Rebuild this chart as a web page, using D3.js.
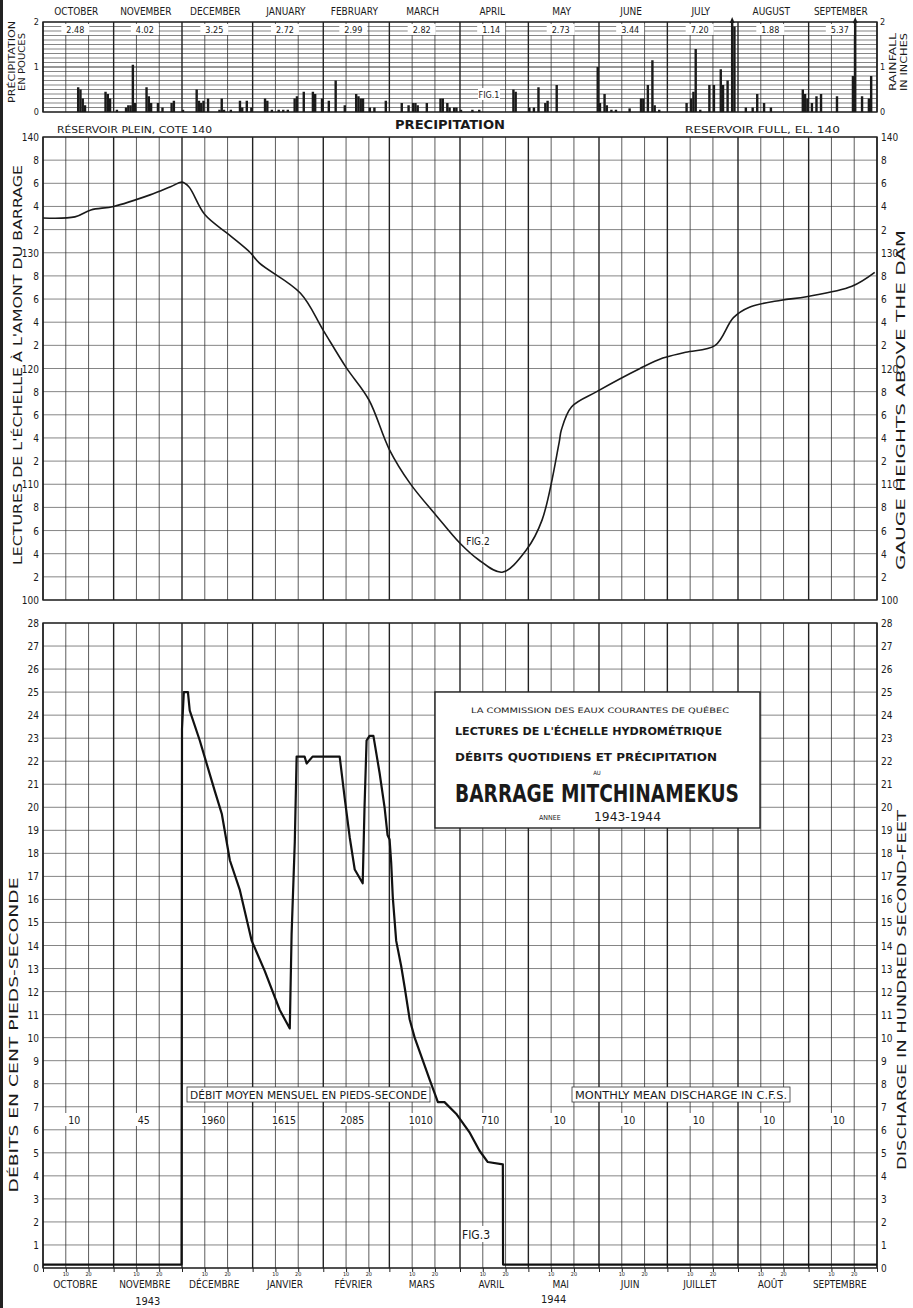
<!DOCTYPE html>
<html>
<head>
<meta charset="utf-8">
<script src="https://cdn.jsdelivr.net/npm/d3@7"></script>
<style>
  body { margin: 0; background: #fff; }
  svg { display: block; }
  text { font-family: "Liberation Sans Narrow", "DejaVu Sans Condensed", "Liberation Sans", sans-serif; fill: #1a1a1a; }
</style>
</head>
<body>
<div id="chart"></div>
<script>
// month labels and monthly figures
var monthsEn = ["OCTOBER", "NOVEMBER", "DECEMBER", "JANUARY", "FEBRUARY", "MARCH", "APRIL", "MAY", "JUNE", "JULY", "AUGUST", "SEPTEMBER"];
var monthsFr = ["OCTOBRE", "NOVEMBRE", "DÉCEMBRE", "JANVIER", "FÉVRIER", "MARS", "AVRIL", "MAI", "JUIN", "JUILLET", "AOÛT", "SEPTEMBRE"];
var rainTotals = ["2.48", "4.02", "3.25", "2.72", "2.99", "2.82", "1.14", "2.73", "3.44", "7.20", "1.88", "5.37"];
var meanDischarge = ["10", "45", "1960", "1615", "2085", "1010", "710", "10", "10", "10", "10", "10"];

// daily rainfall, day counted from Oct 1 1943, inches
var rainDay = [15, 16, 17, 18, 27, 28, 29, 32, 36, 37, 38, 39, 40, 45, 46, 47, 50, 52, 56, 57, 61,
  67, 68, 69, 70, 72, 77, 78, 79, 82, 86, 87, 89, 91, 97, 98, 100, 103, 105, 107, 110, 111, 114, 118, 119,
  122, 125, 128, 132, 137, 138, 139, 140, 143, 145, 150, 157, 160, 162, 163, 164, 168, 174, 175, 177, 178,
  180, 181, 183, 188, 191, 206, 207, 213, 215, 217, 220, 221, 225, 243, 244, 246, 247, 249, 251, 257,
  262, 263, 265, 267, 268, 270, 282, 284, 285, 286, 288, 292, 294, 297, 298, 300, 302, 303, 308, 311,
  313, 316, 319, 333, 334, 335, 337, 339, 341, 348, 355, 356, 359, 362, 363];
var rainInches = [0.55, 0.5, 0.3, 0.15, 0.45, 0.4, 0.3, 0.05, 0.1, 0.15, 0.15, 1.05, 0.2, 0.55, 0.35, 0.2, 0.2, 0.1, 0.2, 0.25, 0.05,
  0.5, 0.25, 0.2, 0.25, 0.3, 0.05, 0.3, 0.05, 0.05, 0.25, 0.1, 0.25, 0.1, 0.3, 0.25, 0.05, 0.05, 0.05, 0.05, 0.3, 0.35, 0.45, 0.45, 0.4,
  0.3, 0.25, 0.7, 0.15, 0.4, 0.35, 0.3, 0.3, 0.1, 0.1, 0.25, 0.2, 0.15, 0.2, 0.2, 0.15, 0.2, 0.3, 0.3, 0.2, 0.1,
  0.1, 0.1, 0.05, 0.05, 0.05, 0.5, 0.45, 0.1, 0.1, 0.55, 0.2, 0.25, 0.6, 1.0, 0.2, 0.4, 0.15, 0.05, 0.05, 0.08,
  0.3, 0.3, 0.6, 1.15, 0.15, 0.05, 0.2, 0.3, 0.45, 1.4, 0.05, 0.6, 0.6, 0.95, 0.6, 0.7, 2.0, 1.9, 0.1, 0.1,
  0.4, 0.2, 0.1, 0.5, 0.4, 0.3, 0.2, 0.35, 0.4, 0.35, 0.8, 2.0, 0.35, 0.3, 0.8];
// days whose rainfall runs off the top of the scale (arrow drawn)
var rainOffScale = [302, 356];

// gauge heights above the dam
var gaugeDay = [0, 14, 21, 31, 47, 56, 61, 64, 71, 82, 91, 95, 113, 123, 133, 143, 152, 161, 173, 183, 191, 201.5,
  212, 219, 226.5, 227.5, 232, 243, 262, 272, 282, 295, 303, 310, 324, 335, 355, 365];
var gaugeHeight = [133.0, 133.1, 133.7, 134.0, 135.0, 135.7, 136.1, 135.7, 133.3, 131.5, 130.0, 129.1, 126.5, 123.3, 120.1, 117.3, 113.0, 110.1,
  107.2, 104.9, 103.5, 102.4, 104.3, 106.9, 113.6, 114.7, 116.7, 118.0, 120.0, 120.9, 121.4, 122.0, 124.4, 125.3, 125.9, 126.2, 127.1, 128.3];

// daily discharge, hundreds of second-feet
var flowDay = [0, 60.8, 61, 61.8, 63.6, 64.4, 68.8, 75.4, 78.5, 82, 86.4, 91.6, 97.3, 103.9, 108.3, 109.1, 110.5, 111.3,
  114.8, 115.7, 118.3, 130.2, 132.4, 134.6, 136.8, 140.3, 141.1, 142, 143.3, 145, 147.7, 149.9, 151.2, 152.1, 152.8,
  153.5, 155, 157.2, 158.7, 160.9, 163.1, 166, 169.6, 173.3, 176.2, 181.3, 187.1, 191.5, 195.2, 201.8, 201.9, 366];
var flowValue = [0.15, 0.15, 23.4, 25.0, 25.0, 24.2, 22.9, 20.7, 19.7, 17.7, 16.4, 14.2, 12.9, 11.2, 10.4, 14.5, 18.5, 22.2,
  22.2, 21.9, 22.2, 22.2, 20.4, 18.7, 17.3, 16.7, 20.0, 22.9, 23.1, 23.1, 21.5, 20.0, 18.8, 18.6, 17.6,
  16.1, 14.2, 13.1, 12.2, 10.8, 10.0, 9.2, 8.2, 7.2, 7.2, 6.7, 5.9, 5.1, 4.6, 4.5, 0.15, 0.15];

var w = 913, h = 1308;
var left = 43, right = 877;
var start = new Date(1943, 9, 1);
var monthStarts = d3.timeMonth.range(start, new Date(1944, 9, 2));
var monthDays = monthStarts.map(function(m) { return d3.timeDay.count(start, m); });
var tenDays = [];
monthDays.slice(0, 12).forEach(function(d) { tenDays.push(d + 10, d + 20); });

var x = d3.scaleLinear().domain([0, 366]).range([left, right]);
var monthMid = function(i) { return (x(monthDays[i]) + x(monthDays[i + 1])) / 2; };

var svg = d3.select("#chart").append("svg").attr("width", w).attr("height", h);

// scan edge on the left
svg.append("rect").attr("x", 0).attr("y", 0).attr("width", 3).attr("height", h).attr("fill", "#222");

function grid(g, y, hTicks, heavy) {
    g.selectAll(".hl").data(hTicks).enter().append("line")
        .attr("x1", left).attr("x2", right)
        .attr("y1", function(d) { return y(d); }).attr("y2", function(d) { return y(d); })
        .attr("stroke", "#333").attr("stroke-width", function(d) { return heavy(d) ? 1.2 : 0.6; });
    g.selectAll(".vm").data(tenDays).enter().append("line")
        .attr("x1", function(d) { return x(d); }).attr("x2", function(d) { return x(d); })
        .attr("y1", y.range()[0]).attr("y2", y.range()[1])
        .attr("stroke", "#333").attr("stroke-width", 0.8);
    g.selectAll(".vM").data(monthDays).enter().append("line")
        .attr("x1", function(d) { return x(d); }).attr("x2", function(d) { return x(d); })
        .attr("y1", y.range()[0]).attr("y2", y.range()[1])
        .attr("stroke", "#222").attr("stroke-width", 1.4);
    g.append("rect").attr("x", left).attr("y", y.range()[1])
        .attr("width", right - left).attr("height", y.range()[0] - y.range()[1])
        .attr("fill", "none").attr("stroke", "#222").attr("stroke-width", 1.4);
}

function vlabel(txt, cx, cy, size, rot, len) {
    var t = svg.append("text").attr("transform", "translate(" + cx + "," + cy + ") rotate(" + rot + ")")
        .attr("text-anchor", "middle").attr("dominant-baseline", "middle")
        .style("font-size", size + "px").text(txt);
    if (len) t.attr("textLength", len).attr("lengthAdjust", "spacingAndGlyphs");
    return t;
}

// ---------- FIG 1 precipitation ----------
var yP = d3.scaleLinear().domain([0, 2]).range([112, 22]);
var gP = svg.append("g");
grid(gP, yP, d3.range(0, 2.01, 0.1).map(function(v) { return +v.toFixed(1); }), function(d) { return d === 1; });

gP.selectAll(".bar").data(rainDay).enter().append("rect")
    .attr("x", function(d) { return x(d) - 0.2; })
    .attr("width", 2.4)
    .attr("y", function(d, i) { return yP(Math.min(2, rainInches[i])); })
    .attr("height", function(d, i) { return yP(0) - yP(Math.min(2, rainInches[i])); })
    .attr("fill", "#1a1a1a");
gP.selectAll(".arrow").data(rainOffScale).enter().append("path")
    .attr("d", function(d) {
        var cx = x(d) + 1, cy = yP(2);
        return "M" + (cx - 2.5) + "," + (cy + 1) + "L" + cx + "," + (cy - 5) + "L" + (cx + 2.5) + "," + (cy + 1) + "Z";
    })
    .attr("fill", "#1a1a1a");

monthsEn.forEach(function(m, i) {
    svg.append("text").attr("x", monthMid(i) - 2).attr("y", 15).attr("text-anchor", "middle")
        .style("font-size", "10px").text(m);
    var tx = monthMid(i) - 3;
    svg.append("rect").attr("x", tx - 14).attr("y", 24).attr("width", 28).attr("height", 11).attr("fill", "#fff");
    svg.append("text").attr("x", tx).attr("y", 33).attr("text-anchor", "middle")
        .style("font-size", "9px").text(rainTotals[i]);
});
[0, 1, 2].forEach(function(v) {
    svg.append("text").attr("x", left - 4).attr("y", yP(v) + 3).attr("text-anchor", "end").style("font-size", "9px").text(v);
    svg.append("text").attr("x", right + 3).attr("y", yP(v) + 3).style("font-size", "9px").text(v);
});
vlabel("PRÉCIPITATION", 12, 62, 9, -90, 82);
vlabel("EN POUCES", 22, 62, 9, -90, 58);
vlabel("RAINFALL", 893, 62, 9, -90, 58);
vlabel("IN INCHES", 904, 62, 9, -90, 58);
svg.append("rect").attr("x", 478).attr("y", 88).attr("width", 22).attr("height", 12).attr("fill", "#fff");
svg.append("text").attr("x", 489).attr("y", 98).attr("text-anchor", "middle").style("font-size", "9px").text("FIG.1");
svg.append("text").attr("x", 450).attr("y", 129).attr("text-anchor", "middle")
    .style("font-size", "12px").style("font-weight", "bold").attr("textLength", 110).attr("lengthAdjust", "spacingAndGlyphs")
    .text("PRECIPITATION");

// ---------- FIG 2 gauge heights ----------
var yG = d3.scaleLinear().domain([100, 140]).range([600, 137]);
var gG = svg.append("g");
grid(gG, yG, d3.range(100, 141, 2), function(d) { return false; });

gG.append("path")
    .datum(gaugeDay)
    .attr("d", d3.line()
        .x(function(d) { return x(d); })
        .y(function(d, i) { return yG(gaugeHeight[i]); })
        .curve(d3.curveCatmullRom))
    .attr("fill", "none").attr("stroke", "#1a1a1a").attr("stroke-width", 1.6);

d3.range(100, 141, 2).forEach(function(v) {
    var lab = (v % 10 === 0) ? String(v) : String(v % 10);
    svg.append("text").attr("x", left - 4).attr("y", yG(v) + 4).attr("text-anchor", "end").style("font-size", "10px").text(lab);
    svg.append("text").attr("x", right + 4).attr("y", yG(v) + 4).style("font-size", "10px").text(lab);
});
svg.append("text").attr("x", 57).attr("y", 133).style("font-size", "9.5px")
    .attr("textLength", 155).attr("lengthAdjust", "spacingAndGlyphs").text("RÉSERVOIR PLEIN, COTE 140");
svg.append("text").attr("x", 685).attr("y", 133).style("font-size", "9.5px")
    .attr("textLength", 155).attr("lengthAdjust", "spacingAndGlyphs").text("RESERVOIR FULL, EL. 140");
vlabel("LECTURES DE L'ÉCHELLE À L'AMONT DU BARRAGE", 18, 365, 12, -90, 400);
vlabel("GAUGE HEIGHTS ABOVE THE DAM", 901, 400, 12, -90, 340);
svg.append("rect").attr("x", 466).attr("y", 534).attr("width", 24).attr("height", 13).attr("fill", "#fff");
svg.append("text").attr("x", 478).attr("y", 545).attr("text-anchor", "middle").style("font-size", "10px").text("FIG.2");

// ---------- FIG 3 discharge ----------
var yD = d3.scaleLinear().domain([0, 28]).range([1268, 623]);
var gD = svg.append("g");
grid(gD, yD, d3.range(0, 29), function(d) { return false; });

// boxed captions of the monthly means
[[187, 430, "DÉBIT MOYEN MENSUEL EN PIEDS-SECONDE"], [572, 790, "MONTHLY MEAN DISCHARGE IN C.F.S."]].forEach(function(c) {
    gD.append("rect").attr("x", c[0]).attr("y", 1087).attr("width", c[1] - c[0]).attr("height", 15)
        .attr("fill", "#fff").attr("stroke", "#333").attr("stroke-width", 0.8);
    gD.append("text").attr("x", c[0] + 3).attr("y", 1099).style("font-size", "10px")
        .attr("textLength", c[1] - c[0] - 6).attr("lengthAdjust", "spacingAndGlyphs").text(c[2]);
});
meanDischarge.forEach(function(v, i) {
    var tx = monthMid(i) - 4;
    gD.append("rect").attr("x", tx - 13).attr("y", 1113).attr("width", 26).attr("height", 13).attr("fill", "#fff");
    gD.append("text").attr("x", tx).attr("y", 1124).attr("text-anchor", "middle").style("font-size", "10.5px").text(v);
});

// title block
var tb = gD.append("g");
tb.append("rect").attr("x", 435).attr("y", 692).attr("width", 325).attr("height", 136)
    .attr("fill", "#fff").attr("stroke", "#222").attr("stroke-width", 1.4);
tb.append("text").attr("x", 600).attr("y", 713).attr("text-anchor", "middle").style("font-size", "7.5px")
    .attr("textLength", 258).attr("lengthAdjust", "spacingAndGlyphs").text("LA COMMISSION DES EAUX COURANTES DE QUÉBEC");
tb.append("text").attr("x", 455).attr("y", 735).style("font-size", "11px").style("font-weight", "bold")
    .attr("textLength", 267).attr("lengthAdjust", "spacingAndGlyphs").text("LECTURES DE L'ÉCHELLE HYDROMÉTRIQUE");
tb.append("text").attr("x", 455).attr("y", 761).style("font-size", "11px").style("font-weight", "bold")
    .attr("textLength", 262).attr("lengthAdjust", "spacingAndGlyphs").text("DÉBITS QUOTIDIENS ET PRÉCIPITATION");
tb.append("text").attr("x", 597).attr("y", 775).attr("text-anchor", "middle").style("font-size", "6px").text("AU");
tb.append("text").attr("x", 455).attr("y", 802).style("font-size", "24px").style("font-weight", "bold")
    .attr("textLength", 284).attr("lengthAdjust", "spacingAndGlyphs").text("BARRAGE MITCHINAMEKUS");
tb.append("text").attr("x", 539).attr("y", 820).style("font-size", "7px").text("ANNEE");
tb.append("text").attr("x", 594).attr("y", 821).style("font-size", "12px")
    .attr("textLength", 67).attr("lengthAdjust", "spacingAndGlyphs").text("1943-1944");

gD.append("path")
    .datum(flowDay)
    .attr("d", d3.line()
        .x(function(d) { return x(d); })
        .y(function(d, i) { return yD(flowValue[i]); }))
    .attr("fill", "none").attr("stroke", "#111").attr("stroke-width", 2.2).attr("stroke-linejoin", "round");

d3.range(0, 29).forEach(function(v) {
    svg.append("text").attr("x", left - 4).attr("y", yD(v) + 4).attr("text-anchor", "end").style("font-size", "10px").text(v);
    svg.append("text").attr("x", right + 4).attr("y", yD(v) + 4).style("font-size", "10px").text(v);
});

// bottom ticks and months
var axisB = d3.axisBottom(x).tickValues(monthDays.concat(tenDays)).tickSize(4).tickFormat("");
var gA = svg.append("g").attr("transform", "translate(0," + yD(0) + ")").call(axisB);
gA.select(".domain").remove();
gA.selectAll("line").attr("stroke", "#222");
tenDays.forEach(function(d, i) {
    svg.append("text").attr("x", x(d)).attr("y", 1276).attr("text-anchor", "middle")
        .style("font-size", "5.5px").text(i % 2 === 0 ? "10" : "20");
});
monthsFr.forEach(function(m, i) {
    svg.append("text").attr("x", monthMid(i) - 3).attr("y", 1288).attr("text-anchor", "middle")
        .style("font-size", "10px").text(m);
});
svg.append("text").attr("x", monthMid(1)).attr("y", 1305).attr("text-anchor", "middle").style("font-size", "11px").text("1943");
svg.append("text").attr("x", monthMid(7) - 10).attr("y", 1303).attr("text-anchor", "middle").style("font-size", "11px").text("1944");

vlabel("DÉBITS EN CENT PIEDS-SECONDE", 14, 1035, 12, -90, 315);
vlabel("DISCHARGE IN HUNDRED SECOND-FEET", 902, 990, 12, -90, 360);
svg.append("rect").attr("x", 462).attr("y", 1226).attr("width", 28).attr("height", 16).attr("fill", "#fff");
svg.append("text").attr("x", 476).attr("y", 1239).attr("text-anchor", "middle").style("font-size", "12px").text("FIG.3");
</script>
</body>
</html>
